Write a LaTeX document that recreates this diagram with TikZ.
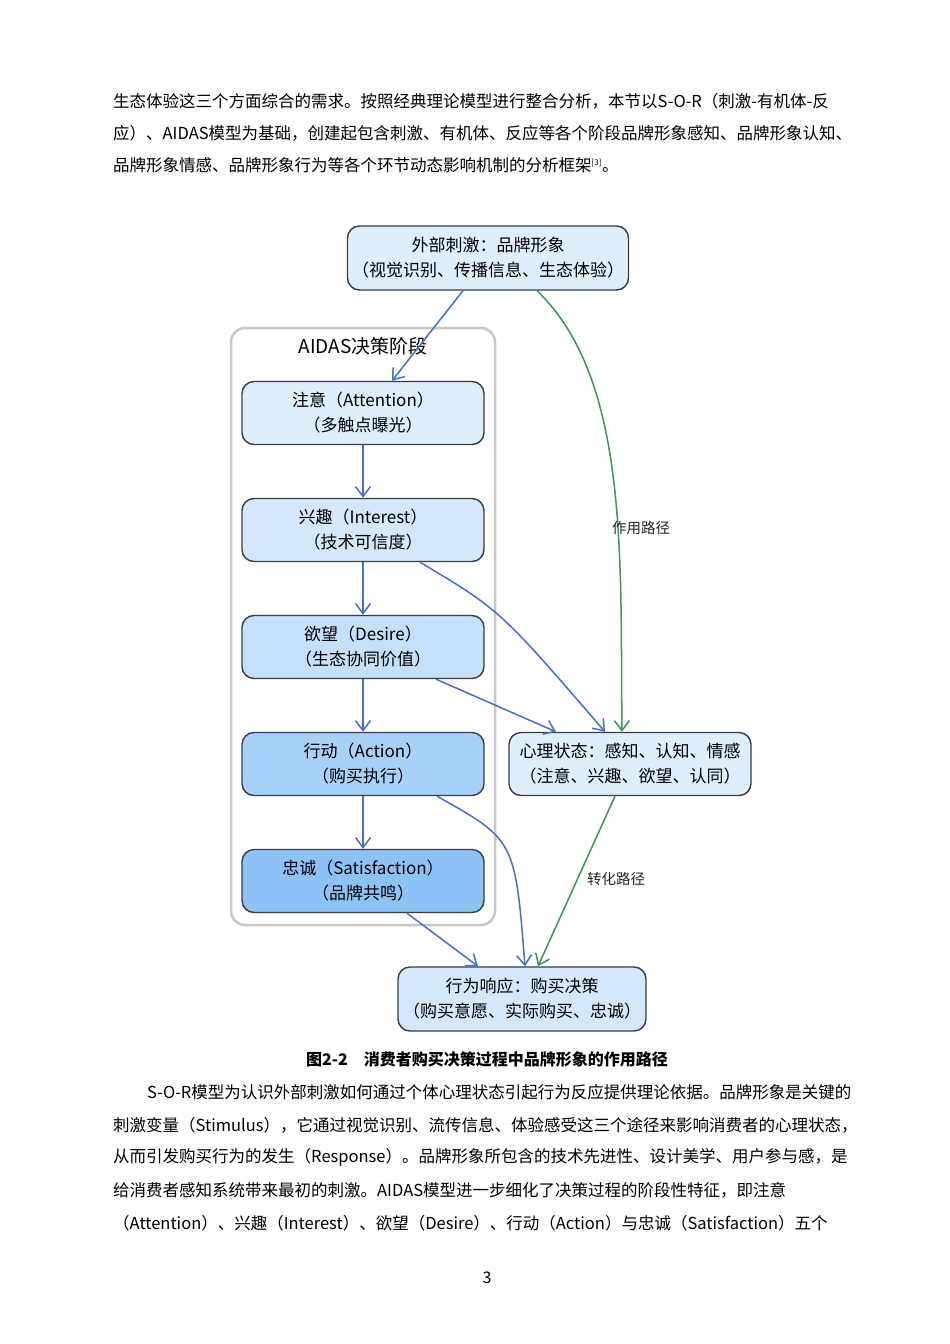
\documentclass[tikz,border=0pt]{standalone}
\usepackage{fontspec}
\setmainfont{Noto Sans CJK SC}
\usetikzlibrary{arrows.meta}
\definecolor{linkblue}{RGB}{68,114,196}
\definecolor{pathgreen}{RGB}{60,150,90}
\definecolor{edgegray}{RGB}{55,60,70}
\definecolor{stageA}{RGB}{222,238,253}
\definecolor{stageI}{RGB}{212,231,251}
\definecolor{stageD}{RGB}{196,224,250}
\definecolor{stageT}{RGB}{168,209,248}
\definecolor{stageS}{RGB}{140,194,245}
\tikzset{
  box/.style={draw=edgegray, line width=1.4pt, rounded corners=12pt, align=center,
    minimum width=242pt, minimum height=63pt, inner sep=2pt,
    font=\fontsize{17pt}{25pt}\selectfont},
  blueflow/.style={draw=linkblue, line width=1.5pt, -{Straight Barb[length=10pt,width=15pt]}},
  greenflow/.style={draw=pathgreen, line width=1.5pt, -{Straight Barb[length=10pt,width=15pt]}},
  bodyline/.style={anchor=west, inner sep=0pt, font=\fontsize{16.5pt}{18pt}\selectfont}
}
\begin{document}
\begin{tikzpicture}[x=1pt,y=-1pt]
  \useasboundingbox[fill=white] (0,0) rectangle (950,1344);

  % upper paragraph
  \node[bodyline] (p1) at (113,101) {生态体验这三个方面综合的需求。按照经典理论模型进行整合分析，本节以S-O-R（刺激-有机体-反};
  \node[bodyline] (p2) at (113,133) {应）、AIDAS模型为基础，创建起包含刺激、有机体、反应等各个阶段品牌形象感知、品牌形象认知、};
  \node[bodyline] (p3) at (113,165) {品牌形象情感、品牌形象行为等各个环节动态影响机制的分析框架\textsuperscript{\fontsize{8pt}{8pt}\selectfont[3]}。};

  % AIDAS container
  \draw[draw=black!22, line width=2.5pt, rounded corners=14pt] (231,328) rectangle (495,925);
  \node[font=\fontsize{19pt}{22pt}\selectfont] (title) at (363,346) {AIDAS决策阶段};

  % nodes
  \node[box, minimum width=281pt, minimum height=64pt, fill=stageA] (ext) at (488,258) {外部刺激：品牌形象\\（视觉识别、传播信息、生态体验）};
  \node[box, fill=stageA] (att) at (363,413) {注意（Attention）\\（多触点曝光）};
  \node[box, fill=stageI] (int) at (363,530) {兴趣（Interest）\\（技术可信度）};
  \node[box, fill=stageD] (des) at (363,647) {欲望（Desire）\\（生态协同价值）};
  \node[box, fill=stageT] (act) at (363,764) {行动（Action）\\（购买执行）};
  \node[box, fill=stageS] (sat) at (363,881) {忠诚（Satisfaction）\\（品牌共鸣）};
  \node[box, fill=stageA] (mind) at (630,764) {心理状态：感知、认知、情感\\（注意、兴趣、欲望、认同）};
  \node[box, minimum width=248pt, minimum height=64pt, fill=stageI] (resp) at (522,999) {行为响应：购买决策\\（购买意愿、实际购买、忠诚）};

  % connectors
  \draw[blueflow] ([xshift=-25pt]ext.south) -- ([xshift=29pt]att.north);
  \draw[blueflow] (att) -- (int);
  \draw[blueflow] (int) -- (des);
  \draw[blueflow] (des) -- (act);
  \draw[blueflow] (act) -- (sat);
  \draw[blueflow] ([xshift=57pt]int.south) .. controls (500,610) .. ([xshift=-25pt]mind.north);
  \draw[blueflow] ([xshift=73pt]des.south) -- ([xshift=-74pt]mind.north);
  \draw[blueflow] ([xshift=74pt]act.south) .. controls (515,840) .. ([xshift=3pt]resp.north);
  \draw[blueflow] ([xshift=44pt]sat.south) -- ([xshift=-44pt]resp.north);
  \draw[greenflow] ([xshift=49pt]ext.south) .. controls (630,380) and (620,560) .. ([xshift=-8pt]mind.north);
  \node[font=\fontsize{14.5pt}{16pt}\selectfont, text=black!85] (lab1) at (641,528) {作用路径};
  \draw[greenflow] ([xshift=-15pt]mind.south) -- ([xshift=16pt]resp.north);
  \node[font=\fontsize{14.5pt}{16pt}\selectfont, text=black!85] (lab2) at (616,879) {转化路径};

  % caption and lower paragraph
  \node[font=\fontsize{16pt}{18pt}\selectfont\bfseries] (cap) at (487,1059) {图2-2\quad 消费者购买决策过程中品牌形象的作用路径};
  \node[bodyline] (q1) at (147,1092) {S-O-R模型为认识外部刺激如何通过个体心理状态引起行为反应提供理论依据。品牌形象是关键的};
  \node[bodyline] (q2) at (113,1125) {刺激变量（Stimulus），它通过视觉识别、流传信息、体验感受这三个途径来影响消费者的心理状态，};
  \node[bodyline] (q3) at (113,1157) {从而引发购买行为的发生（Response）。品牌形象所包含的技术先进性、设计美学、用户参与感，是};
  \node[bodyline] (q4) at (113,1190) {给消费者感知系统带来最初的刺激。AIDAS模型进一步细化了决策过程的阶段性特征，即注意};
  \node[bodyline] (q5) at (113,1223) {（Attention）、兴趣（Interest）、欲望（Desire）、行动（Action）与忠诚（Satisfaction）五个};
  \node[font=\fontsize{16pt}{18pt}\selectfont] (page) at (487,1278) {3};
\end{tikzpicture}
\end{document}
